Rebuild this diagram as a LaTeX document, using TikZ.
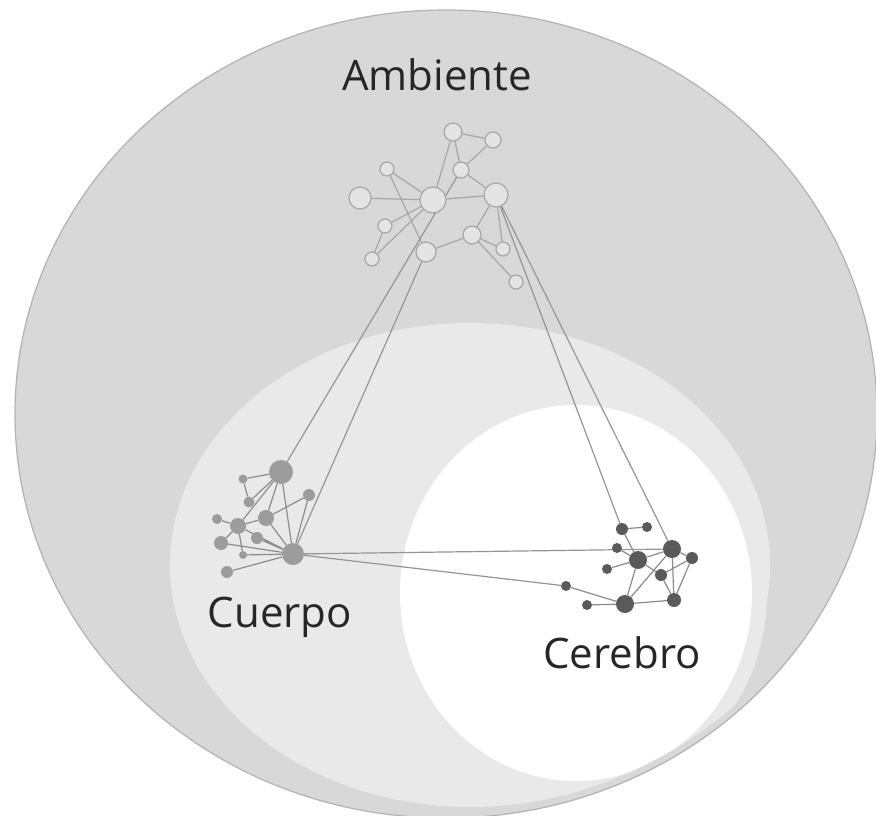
\documentclass[tikz,border=0pt]{standalone}
\usepackage{fontspec}
\setmainfont{Open Sans}
\usepackage{tikz}
\usetikzlibrary{backgrounds}

\definecolor{ambfill}{HTML}{D8D8D8}
\definecolor{ambline}{HTML}{B2B2B2}
\definecolor{cuefill}{HTML}{E9E9E9}
\definecolor{topnode}{HTML}{E4E4E4}
\definecolor{topline}{HTML}{A6A6A6}
\definecolor{cuenode}{HTML}{9C9C9C}
\definecolor{cernode}{HTML}{5A5A5A}
\definecolor{txt}{HTML}{262626}

\tikzset{
    tnode/.style={circle, draw=topline, line width=1.2pt, fill=topnode, inner sep=0pt, minimum size=#1},
    cnode/.style={circle, fill=cuenode, inner sep=0pt, minimum size=#1},
    rnode/.style={circle, fill=cernode, inner sep=0pt, minimum size=#1},
    link/.style={line width=1.2pt, draw=#1},
    lbl/.style={anchor=base, text=txt, font=\fontsize{42}{48}\selectfont}
}

\begin{document}
\begin{tikzpicture}[x=1pt, y=-1pt]
        \useasboundingbox (0,0) rectangle (876,816);
        \pgfdeclarelayer{bg}
        \pgfdeclarelayer{edges}
        \pgfsetlayers{bg,edges,main}

        % ambiente, cuerpo, cerebro
        \begin{pgfonlayer}{bg}
            \fill[white] (0,0) rectangle (876,816);
            \filldraw[fill=ambfill, draw=ambline, line width=1.2pt] (446,414) ellipse [x radius=431pt, y radius=404pt];
            \begin{scope}
                \clip (446,414) ellipse [x radius=425pt, y radius=397pt];
                \fill[cuefill] (470,565) ellipse [x radius=300pt, y radius=242pt];
                \fill[cuefill] (576,593) ellipse [x radius=191pt, y radius=203pt];
                \fill[white] (576,593) ellipse [x radius=176pt, y radius=188pt];
            \end{scope}
        \end{pgfonlayer}

        \node[lbl] (amb) at (437,91) {Ambiente};
        \node[lbl] (cue) at (280,627) {Cuerpo};
        \node[lbl] (cer) at (622,668) {Cerebro};

        % red del ambiente
        \node[tnode=18pt] (T1) at (453,132) {};
        \node[tnode=16pt] (T2) at (493,140) {};
        \node[tnode=16pt] (T3) at (461,170) {};
        \node[tnode=26pt] (T4) at (433,200) {};
        \node[tnode=24pt] (T5) at (496,195) {};
        \node[tnode=14pt] (T6) at (387,169) {};
        \node[tnode=22pt] (T7) at (360,198) {};
        \node[tnode=14pt] (T8) at (385,226) {};
        \node[tnode=14pt] (T9) at (372,259) {};
        \node[tnode=20pt] (T10) at (426,252) {};
        \node[tnode=18pt] (T11) at (472,235) {};
        \node[tnode=14pt] (T12) at (503,249) {};
        \node[tnode=14pt] (T13) at (516,282) {};

        % red del cuerpo
        \node[cnode=24pt] (C1) at (281,472) {};
        \node[cnode=9pt] (C2) at (243,479) {};
        \node[cnode=11pt] (C3) at (249,502) {};
        \node[cnode=12pt] (C4) at (309,495) {};
        \node[cnode=10pt] (C5) at (217,519) {};
        \node[cnode=16pt] (C6) at (238,526) {};
        \node[cnode=16pt] (C7) at (266,518) {};
        \node[cnode=14pt] (C8) at (221,543) {};
        \node[cnode=12pt] (C9) at (257,538) {};
        \node[cnode=8pt] (C10) at (243,555) {};
        \node[cnode=22pt] (C11) at (293,554) {};
        \node[cnode=12pt] (C12) at (227,572) {};

        % red del cerebro
        \node[rnode=12pt] (R1) at (622,529) {};
        \node[rnode=10pt] (R2) at (647,527) {};
        \node[rnode=10pt] (R3) at (617,548) {};
        \node[rnode=18pt] (R4) at (672,549) {};
        \node[rnode=18pt] (R5) at (638,560) {};
        \node[rnode=12pt] (R6) at (692,558) {};
        \node[rnode=10pt] (R7) at (607,569) {};
        \node[rnode=12pt] (R8) at (661,575) {};
        \node[rnode=10pt] (R9) at (566,586) {};
        \node[rnode=10pt] (R10) at (587,605) {};
        \node[rnode=18pt] (R11) at (625,604) {};
        \node[rnode=14pt] (R12) at (674,600) {};

        \begin{pgfonlayer}{edges}
            \draw[link=topline] (T1) -- (T2) (T1) -- (T3) (T2) -- (T3) (T3) -- (T5);
            \draw[link=topline] (T1) -- (T4) (T4) -- (T7) (T4) -- (T5) (T6) -- (T4);
            \draw[link=topline] (T6) -- (T10) (T8) -- (T4) (T8) -- (T9) (T9) -- (T4);
            \draw[link=topline] (T10) -- (T11) (T11) -- (T5) (T11) -- (T12) (T11) -- (T13) (T5) -- (T12);

            \draw[link=cuenode!90!black] (C2) -- (C1) (C2) -- (C3) (C3) -- (C1) (C6) -- (C1) (C7) -- (C1) (C1) -- (C11);
            \draw[link=cuenode!90!black] (C4) -- (C7) (C4) -- (C11) (C5) -- (C6) (C6) -- (C7) (C6) -- (C8) (C6) -- (C10);
            \draw[link=cuenode!90!black] (C7) -- (C11) (C8) -- (C11) (C6) -- (C11) (C9) -- (C11) (C10) -- (C11) (C12) -- (C11);

            \draw[link=cernode!70] (R1) -- (R2) (R1) -- (R5) (R3) -- (R5) (R7) -- (R5) (R5) -- (R4) (R5) -- (R8);
            \draw[link=cernode!70] (R5) -- (R11) (R4) -- (R11) (R8) -- (R6) (R4) -- (R12) (R6) -- (R12) (R11) -- (R12);
            \draw[link=cernode!70] (R9) -- (R11) (R10) -- (R11) (R8) -- (R12) (R4) -- (R6);

            % conexiones entre redes
            \draw[link=topline!90!black] (T3) -- (C1) (T10) -- (C11) (T5) -- (R1) (T5) -- (R4);
            \draw[link=topline!90!black] (C11) -- (R4) (C11) -- (R9);
        \end{pgfonlayer}
    \end{tikzpicture}
\end{document}
